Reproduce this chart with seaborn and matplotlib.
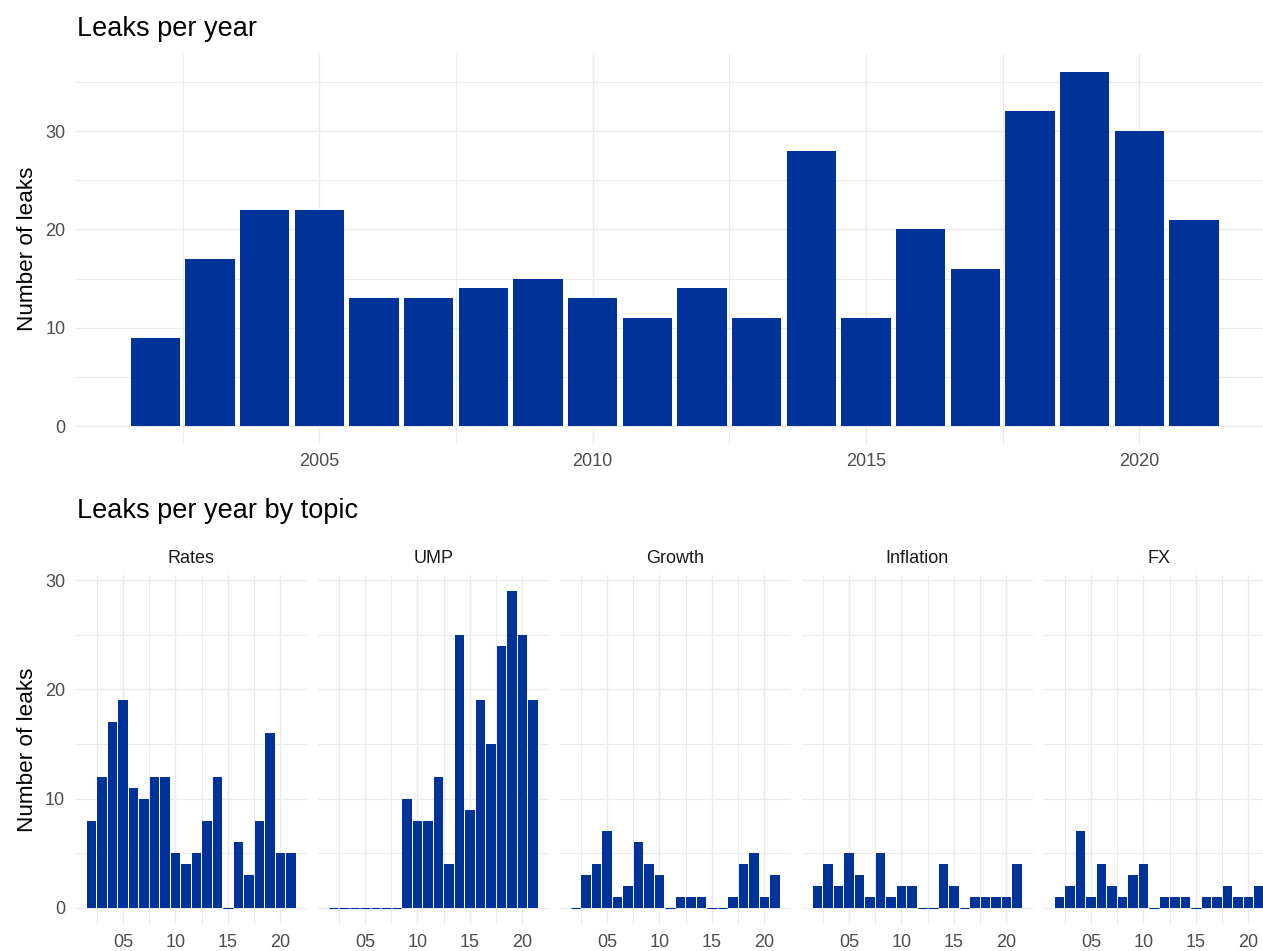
import matplotlib
matplotlib.use("Agg")
import matplotlib.pyplot as plt
import numpy as np
import pandas as pd
import seaborn as sns

# leak counts
years = list(range(2002, 2022))
total_leaks = [9, 17, 22, 22, 13, 13, 14, 15, 13, 11, 14, 11, 28, 11, 20, 16, 32, 36, 30, 21]

topics = ["Rates", "UMP", "Growth", "Inflation", "FX"]
rates = [8, 12, 17, 19, 11, 10, 12, 12, 5, 4, 5, 8, 12, 0, 6, 3, 8, 16, 5, 5]
ump = [0, 0, 0, 0, 0, 0, 0, 10, 8, 8, 12, 4, 25, 9, 19, 15, 24, 29, 25, 19]
growth = [0, 3, 4, 7, 1, 2, 6, 4, 3, 0, 1, 1, 1, 0, 0, 1, 4, 5, 1, 3]
inflation = [2, 4, 2, 5, 3, 1, 5, 1, 2, 2, 0, 0, 4, 2, 0, 1, 1, 1, 1, 4]
fx = [1, 2, 7, 1, 4, 2, 1, 3, 4, 0, 1, 1, 1, 0, 1, 1, 2, 1, 1, 2]

year_ticks = [2005, 2010, 2015, 2020]
short_labels = ["05", "10", "15", "20"]

BLUE = "#003399"
GRID = "#EBEBEB"
TICK_COL = "#4D4D4D"

sns.set_theme(style="white")
plt.rcParams["font.family"] = ["Liberation Sans", "DejaVu Sans"]

W, H = 1263, 951
fig = plt.figure(figsize=(W / 100, H / 100), dpi=100)


def px_axes(left, top, right, bottom):
    return fig.add_axes([left / W, 1 - bottom / H, (right - left) / W, (bottom - top) / H])


def style_axes(ax, yticks, yminor):
    ax.set_axisbelow(True)
    for s in ax.spines.values():
        s.set_visible(False)
    ax.set_yticks(yticks)
    ax.set_yticks(yminor, minor=True)
    ax.set_xticks([2002.5, 2007.5, 2012.5, 2017.5, 2022.5], minor=True)
    ax.grid(which="major", color=GRID, linewidth=1.0)
    ax.grid(which="minor", color=GRID, linewidth=0.8)
    ax.tick_params(which="both", length=0, labelsize=13, labelcolor=TICK_COL)
    ax.tick_params(axis="y", pad=8)
    ax.tick_params(axis="x", pad=7)
    ax.set_xlabel("")
    ax.set_ylabel("")


# top panel: all leaks
df_total = pd.DataFrame({"year": years, "leaks": total_leaks})
ax_top = px_axes(76.4, 54.4, 1276, 443.7)
sns.barplot(data=df_total, x="year", y="leaks", native_scale=True, width=0.9,
            color=BLUE, saturation=1, errorbar=None, linewidth=0, ax=ax_top)
ax_top.set_xlim(2000.555, 2022.445)
ax_top.set_ylim(-1.8, 37.8)
style_axes(ax_top, [0, 10, 20, 30], [5, 15, 25, 35])
ax_top.set_xticks(year_ticks)
ax_top.set_xticklabels([str(y) for y in year_ticks])
ax_top.set_ylabel("Number of leaks", fontsize=16.2, color="black", labelpad=5)

fig.text(77 / W, 1 - 36 / H, "Leaks per year", fontsize=19.5, color="black",
         ha="left", va="baseline")

# bottom panels: leaks by topic
df_topic = pd.DataFrame({
    "year": years * len(topics),
    "topic": np.repeat(topics, len(years)),
    "leaks": rates + ump + growth + inflation + fx,
})

fig.text(77 / W, 1 - 518 / H, "Leaks per year by topic", fontsize=19.5, color="black",
         ha="left", va="baseline")

for i, topic in enumerate(topics):
    left = 76.2 + 242.0 * i
    ax = px_axes(left, 575.2, left + 230.5, 923.8)
    sub = df_topic[df_topic["topic"] == topic]
    sns.barplot(data=sub, x="year", y="leaks", native_scale=True, width=0.9,
                color=BLUE, saturation=1, errorbar=None, linewidth=0, ax=ax)
    # zero-count years still show as a thin line, as in the original
    for p in ax.patches:
        if p.get_height() == 0:
            p.set_edgecolor(BLUE)
            p.set_linewidth(0.8)
    ax.set_xlim(2000.555, 2022.445)
    ax.set_ylim(-1.45, 30.45)
    style_axes(ax, [0, 10, 20, 30], [5, 15, 25])
    ax.set_xticks(year_ticks)
    ax.set_xticklabels(short_labels)
    ax.set_title(topic, fontsize=13, color="#1A1A1A", pad=8.5)
    if i == 0:
        ax.set_ylabel("Number of leaks", fontsize=16.2, color="black", labelpad=5)
    else:
        ax.set_yticklabels([])

fig.savefig("out.png", dpi=100)
